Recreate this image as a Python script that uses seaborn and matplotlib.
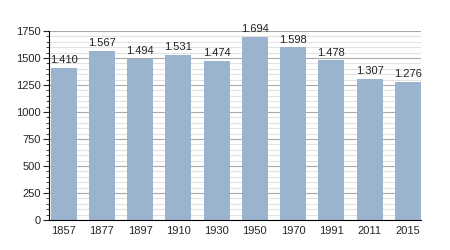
import matplotlib
matplotlib.use("Agg")
import matplotlib.pyplot as plt
import seaborn as sns
import pandas as pd
from matplotlib.ticker import MultipleLocator

years = ["1857", "1877", "1897", "1910", "1930", "1950", "1970", "1991", "2011", "2015"]
population = [1410, 1567, 1494, 1531, 1474, 1694, 1598, 1478, 1307, 1276]
labels = ["1.410", "1.567", "1.494", "1.531", "1.474", "1.694", "1.598", "1.478", "1.307", "1.276"]

sns.set_style("white")
plt.rcParams['font.family'] = ['Liberation Sans', 'DejaVu Sans']

df = pd.DataFrame({"year": years, "pop": population})

fig = plt.figure(figsize=(4.5, 2.5), dpi=100)
ax = fig.add_axes([0.109, 0.12, 0.827, 0.756])

ax.yaxis.set_major_locator(MultipleLocator(250))
ax.yaxis.set_minor_locator(MultipleLocator(50))
ax.grid(which='major', axis='y', color='#a8a8a8', linewidth=0.8)
ax.grid(which='minor', axis='y', color='#e2e2e2', linewidth=0.8)
ax.set_axisbelow(True)

sns.barplot(data=df, x="year", y="pop", color="#9ab3cf", saturation=1, width=0.68,
            linewidth=0, ax=ax, zorder=2)

for i, (v, t) in enumerate(zip(population, labels)):
    ax.text(i, v + 25, t, ha='center', va='bottom', fontsize=8, color='#222222')

ax.set_ylim(0, 1750)
ax.set_xlim(-0.38, len(years) - 0.65)
ax.set_xlabel("")
ax.set_ylabel("")
for s in ['top', 'right']:
    ax.spines[s].set_visible(False)
ax.spines['left'].set_color('black')
ax.spines['bottom'].set_color('black')
ax.spines['left'].set_linewidth(0.8)
ax.spines['bottom'].set_linewidth(0.8)
ax.tick_params(axis='y', which='major', left=True, length=4, width=0.8, labelsize=8, pad=2)
ax.tick_params(axis='y', which='minor', left=True, length=2, width=0.6)
ax.tick_params(axis='x', bottom=False, labelsize=8, pad=1)

fig.savefig("out.png", dpi=100, facecolor='white')
